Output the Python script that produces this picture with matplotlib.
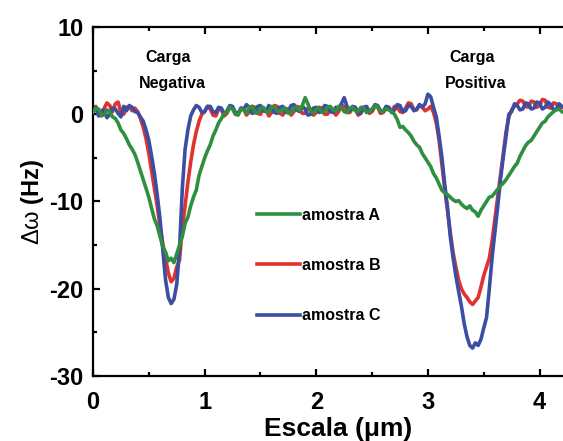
import numpy as np
import matplotlib
matplotlib.use("Agg")
import matplotlib.pyplot as plt
from matplotlib.ticker import MultipleLocator

plt.rcParams['font.family'] = ['Liberation Sans', 'DejaVu Sans']
plt.rcParams['axes.unicode_minus'] = False
plt.rcParams['mathtext.fontset'] = 'custom'
plt.rcParams['mathtext.rm'] = 'Liberation Sans'
plt.rcParams['mathtext.it'] = 'Liberation Sans'
plt.rcParams['mathtext.bf'] = 'Liberation Sans:bold'

# x positions (micrometres), step 0.025 from 0 to 4.2
x = np.linspace(0, 4.2, 169)

amostra_A = [0.2, 0.7, 0.6, -0.1, -0.1, 0.5, 0.3, -0.3, -0.5, -1.0,
             -1.8, -2.2, -2.8, -3.5, -4.0, -4.6, -5.5, -6.5, -7.5, -8.5,
             -9.5, -10.8, -12.0, -12.8, -14.0, -15.2, -15.8, -16.8, -16.5, -17.0,
             -16.0, -15.0, -14.0, -12.5, -11.8, -10.5, -9.5, -8.7, -7.0, -6.0,
             -5.0, -4.2, -3.5, -2.5, -1.8, -1.0, -0.5, 0.1, 0.3, 0.8,
             0.6, 0.0, -0.1, 0.6, 0.5, 0.1, 0.8, 0.9, 0.2, 0.1,
             0.7, 0.8, 0.3, 0.2, 0.9, 0.8, 0.4, 0.3, 0.6, 0.7,
             0.1, 0.2, 0.7, 0.8, 0.4, 1.0, 1.9, 1.2, 0.3, 0.2,
             0.6, 0.7, 0.2, 0.3, 0.8, 0.9, 0.5, 0.4, 0.9, 0.8,
             0.3, 0.2, 0.7, 0.8, 0.4, 0.3, 0.8, 0.7, 0.2, 0.3,
             0.6, 1.0, 0.9, 0.4, 0.3, 0.6, 0.5, 0.3, 0.0, -0.6,
             -1.5, -1.4, -1.8, -2.1, -2.5, -3.1, -3.5, -3.8, -4.5, -5.0,
             -5.5, -6.0, -6.8, -7.3, -8.0, -8.7, -9.0, -9.2, -9.5, -9.8,
             -10.0, -9.9, -10.3, -10.6, -10.8, -10.5, -11.0, -11.2, -11.7, -11.0,
             -10.5, -10.0, -9.5, -9.4, -9.0, -8.6, -8.2, -7.9, -7.5, -7.0,
             -6.5, -6.0, -5.6, -4.8, -4.2, -3.6, -3.2, -3.0, -2.5, -2.0,
             -1.5, -1.0, -0.8, -0.3, 0.0, 0.3, 0.5, 0.6, 0.3]

amostra_B = [0.5, 0.9, 0.1, -0.2, 0.7, 1.3, 1.0, 0.3, 1.2, 1.4,
             0.2, 0.0, 0.8, 0.9, 0.4, 0.7, 0.3, -0.5, -1.5, -2.8,
             -4.5, -6.5, -8.5, -10.5, -12.8, -14.8, -16.5, -18.2, -19.2, -18.8,
             -17.5, -16.7, -13.0, -10.5, -7.8, -5.5, -3.5, -2.0, -0.8, 0.0,
             0.3, 0.9, 0.6, -0.1, -0.2, 0.6, 0.5, -0.2, 0.1, 0.8,
             0.7, 0.0, 0.0, 0.7, 0.6, -0.1, 0.3, 0.9, 0.8, 0.1,
             0.0, 0.6, 0.5, -0.2, 0.2, 1.0, 0.9, 0.1, -0.1, 0.6,
             0.6, -0.1, 0.3, 0.9, 0.8, 0.1, 0.1, 0.7, 0.6, -0.1,
             0.2, 0.8, 0.7, 0.0, 0.0, 0.6, 0.5, -0.1, 0.3, 1.0,
             0.9, 0.2, 0.2, 0.7, 0.6, -0.1, 0.1, 0.8, 0.7, 0.1,
             0.3, 0.9, 0.8, 0.1, 0.2, 0.7, 0.6, 0.3, 0.9, 0.8,
             0.3, 0.2, 0.7, 1.3, 1.2, 0.5, 0.5, 1.1, 0.8, 0.4,
             0.6, 0.9, 0.2, -1.0, -3.0, -5.8, -8.5, -11.0, -13.5, -15.8,
             -17.5, -19.0, -20.0, -20.6, -21.0, -21.5, -21.8, -21.4, -21.0, -19.8,
             -18.5, -17.5, -16.5, -14.5, -12.0, -9.5, -7.0, -4.5, -2.0, -0.3,
             0.5, 0.9, 1.2, 1.6, 1.5, 0.9, 0.8, 1.5, 1.4, 0.8,
             1.0, 1.7, 1.6, 0.8, 0.7, 1.3, 1.2, 0.7, 0.8]

amostra_C = [0.3, 0.8, -0.2, 0.4, 0.5, -0.4, 0.0, 0.7, 0.6, 0.1,
             -0.3, 0.9, 0.4, 1.0, 0.8, 0.3, 0.2, -0.3, -0.8, -1.8,
             -3.0, -4.8, -6.8, -9.2, -12.0, -15.5, -19.0, -21.0, -21.7, -21.2,
             -19.5, -15.5, -8.5, -4.0, -1.8, -0.2, 0.5, 1.0, 0.8, 0.2,
             0.3, 0.9, 0.9, 0.3, 0.2, 0.8, 0.7, 0.0, 0.4, 1.0,
             0.9, 0.2, 0.1, 0.7, 0.6, 1.1, 0.8, 0.1, 0.2, 0.9,
             1.0, 0.4, 0.3, 1.0, 0.7, 0.2, 0.1, 0.8, 0.9, 0.2,
             0.4, 1.0, 1.1, 0.5, 0.3, 0.9, 0.6, -0.1, 0.0, 0.7,
             0.8, 0.2, 0.4, 1.0, 0.9, 0.3, 0.2, 0.8, 0.6, 1.2,
             1.9, 0.9, 0.4, 0.9, 0.8, 0.1, 0.2, 0.8, 0.9, 0.3,
             0.5, 1.1, 1.0, 0.4, 0.3, 0.9, 0.8, 0.2, 0.5, 1.1,
             1.0, 0.3, 0.4, 1.0, 0.9, 0.4, 0.6, 1.1, 0.8, 1.2,
             2.3, 2.0, 0.8, -0.3, -2.5, -4.9, -8.0, -10.6, -14.0, -16.4,
             -18.5, -20.3, -22.0, -24.0, -25.5, -26.5, -26.8, -26.2, -26.5, -25.8,
             -24.5, -23.3, -20.0, -16.4, -13.5, -10.6, -7.5, -4.9, -2.5, 0.0,
             0.3, 1.2, 1.0, 0.5, 0.6, 1.3, 1.2, 0.6, 0.7, 1.4,
             1.3, 0.6, 0.8, 1.4, 1.1, 0.5, 0.6, 1.2, 0.9]

labels = ['amostra A', 'amostra B', 'amostra C']
colors = ['#2f8f3f', '#e0322f', '#3a4ea3']

fig = plt.figure(figsize=(5.63, 4.41), dpi=100)
ax = fig.add_axes([0.1652, 0.1474, 0.8348, 0.7914])

lw = 2.6
lA, = ax.plot(x, amostra_A, color=colors[0], lw=lw, zorder=4)
lB, = ax.plot(x, amostra_B, color=colors[1], lw=lw, zorder=2)
lC, = ax.plot(x, amostra_C, color=colors[2], lw=lw, zorder=3)

ax.set_xlim(0, 4.21)
ax.set_ylim(-30, 10)
ax.xaxis.set_major_locator(MultipleLocator(1))
ax.xaxis.set_minor_locator(MultipleLocator(0.5))
ax.yaxis.set_major_locator(MultipleLocator(10))
ax.yaxis.set_minor_locator(MultipleLocator(5))

ax.spines['right'].set_visible(False)
for s in ['left', 'bottom', 'top']:
    ax.spines[s].set_linewidth(1.6)

ax.tick_params(which='both', direction='in', top=True, right=False, width=1.6)
ax.tick_params(which='major', length=5)
ax.tick_params(which='minor', length=3)
ax.tick_params(axis='x', which='major', pad=11, labelsize=17)
ax.tick_params(axis='y', which='major', pad=7, labelsize=17)
for t in ax.get_xticklabels() + ax.get_yticklabels():
    t.set_fontweight('bold')

ax.set_xlabel('Escala (μm)', fontsize=19, fontweight='bold')
ax.xaxis.set_label_coords(0.521, -0.118)
ax.set_ylabel(r'$\Delta\omega$ (Hz)', fontsize=17, fontweight='bold', labelpad=2)

ax.text(0.67, 6.5, 'Carga', ha='center', va='center', fontsize=11.5, fontweight='bold')
ax.text(0.71, 3.5, 'Negativa', ha='center', va='center', fontsize=11.5, fontweight='bold')
ax.text(3.40, 6.5, 'Carga', ha='center', va='center', fontsize=11.5, fontweight='bold')
ax.text(3.43, 3.5, 'Positiva', ha='center', va='center', fontsize=11.5, fontweight='bold')

leg = ax.legend([lA, lB, lC], labels, loc='upper left', bbox_to_anchor=(0.319, 0.523),
                frameon=False, handlelength=2.7, handletextpad=0.1,
                labelspacing=2.2, prop={'weight': 'bold', 'size': 11.5})

fig.savefig('out.png', dpi=100)
